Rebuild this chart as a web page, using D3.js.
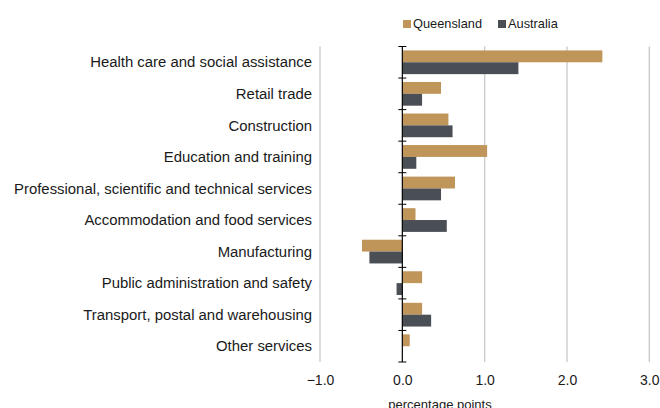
<!DOCTYPE html>
<html>
<head>
<meta charset="utf-8">
<script src="https://cdn.jsdelivr.net/npm/d3@7"></script>
<style>
  body { margin: 0; background: #fff; }
  text { font-family: "Liberation Sans", Arial, sans-serif; fill: #1a1a1a; }
</style>
</head>
<body>
<div id="chart"></div>
<script>
// Data
const industries = [
  "Health care and social assistance",
  "Retail trade",
  "Construction",
  "Education and training",
  "Professional, scientific and technical services",
  "Accommodation and food services",
  "Manufacturing",
  "Public administration and safety",
  "Transport, postal and warehousing",
  "Other services"
];
const queensland = [2.43, 0.47, 0.56, 1.03, 0.64, 0.16, -0.49, 0.24, 0.24, 0.09];
const australia = [1.41, 0.24, 0.61, 0.17, 0.47, 0.54, -0.40, -0.07, 0.35, 0.0];
const seriesNames = ["Queensland", "Australia"];
const xTicks = [-1, 0, 1, 2, 3];

const WIDTH = 660;
const HEIGHT = 408;
const COLORS = ["#c0955a", "#4a4e55"];
const margin = { top: 46.5, right: 10.7, bottom: 46, left: 320 };

const svg = d3.select("#chart")
  .append("svg")
  .attr("width", WIDTH)
  .attr("height", HEIGHT);

const x = d3.scaleLinear()
  .domain([-1, 3])
  .range([margin.left, WIDTH - margin.right]);

const y = d3.scaleBand()
  .domain(industries)
  .range([margin.top, HEIGHT - margin.bottom])
  .paddingInner(0)
  .paddingOuter(0);

const inner = d3.scaleBand()
  .domain(seriesNames)
  .range([0, y.bandwidth()])
  .paddingInner(0)
  .paddingOuter(0.33);

// Gridlines
svg.append("g")
  .selectAll("line")
  .data(xTicks.filter(d => d !== 0))
  .join("line")
  .attr("x1", d => x(d))
  .attr("x2", d => x(d))
  .attr("y1", margin.top)
  .attr("y2", HEIGHT - margin.bottom)
  .attr("stroke", "#c9c9c9")
  .attr("stroke-width", 1.3);

// Bars
const rows = industries.map((name, i) => ({ name, values: [queensland[i], australia[i]] }));

const groups = svg.append("g")
  .selectAll("g")
  .data(rows)
  .join("g")
  .attr("transform", d => `translate(0,${y(d.name)})`);

groups.selectAll("rect")
  .data(d => d.values.map((v, i) => ({ series: seriesNames[i], value: v, color: COLORS[i] })))
  .join("rect")
  .attr("x", d => x(Math.min(0, d.value)))
  .attr("width", d => Math.abs(x(d.value) - x(0)))
  .attr("y", d => inner(d.series))
  .attr("height", inner.bandwidth())
  .attr("fill", d => d.color);

// Zero axis line with category boundary ticks
svg.append("line")
  .attr("x1", x(0))
  .attr("x2", x(0))
  .attr("y1", margin.top)
  .attr("y2", HEIGHT - margin.bottom)
  .attr("stroke", "#000")
  .attr("stroke-width", 1.2);

const boundaries = industries.map(d => y(d)).concat([HEIGHT - margin.bottom]);
svg.append("g")
  .selectAll("line")
  .data(boundaries)
  .join("line")
  .attr("x1", x(0) - 4)
  .attr("x2", x(0) + 4)
  .attr("y1", d => d)
  .attr("y2", d => d)
  .attr("stroke", "#000")
  .attr("stroke-width", 1);

// Category labels
svg.append("g")
  .selectAll("text")
  .data(industries)
  .join("text")
  .attr("x", 312)
  .attr("y", d => y(d) + y.bandwidth() / 2)
  .attr("dy", "0.35em")
  .attr("text-anchor", "end")
  .style("font-size", "14.9px")
  .text(d => d);

// X axis labels
const xAxis = d3.axisBottom(x)
  .tickValues(xTicks)
  .tickSize(0)
  .tickPadding(13)
  .tickFormat(d => (d < 0 ? "\u2212" : "") + Math.abs(d).toFixed(1));

svg.append("g")
  .attr("transform", `translate(0,${HEIGHT - margin.bottom})`)
  .call(xAxis)
  .call(g => g.select(".domain").remove())
  .call(g => g.selectAll("text")
    .style("font-size", "14px")
    .style("font-family", "'Liberation Sans', Arial, sans-serif")
    .attr("fill", "#1a1a1a"));

svg.append("text")
  .attr("x", 440)
  .attr("y", 409)
  .attr("text-anchor", "middle")
  .style("font-size", "13px")
  .text("percentage points");

// Legend
const legendItems = [
  { name: "Queensland", color: COLORS[0], x: 403 },
  { name: "Australia", color: COLORS[1], x: 498 }
];
const legend = svg.append("g")
  .selectAll("g")
  .data(legendItems)
  .join("g")
  .attr("transform", d => `translate(${d.x},24)`);

legend.append("rect")
  .attr("x", 0)
  .attr("y", -4)
  .attr("width", 8)
  .attr("height", 8)
  .attr("fill", d => d.color);

legend.append("text")
  .attr("x", 10)
  .attr("y", 0)
  .attr("dy", "0.35em")
  .style("font-size", "12.8px")
  .text(d => d.name);
</script>
</body>
</html>
